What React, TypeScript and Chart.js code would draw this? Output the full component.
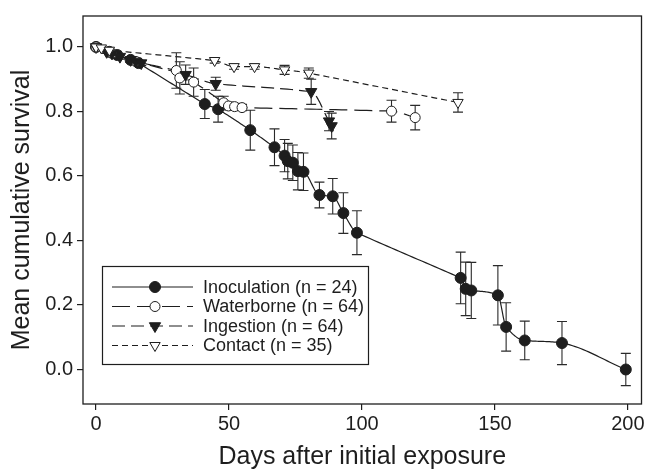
import React, { useEffect, useRef } from 'react';
import { Chart, registerables } from 'chart.js';

Chart.register(...registerables);

const FONT = "'Liberation Sans', Arial, Helvetica, sans-serif";
const INK = '#1e1e1e';

const xTicks = [0, 50, 100, 150, 200];
const yTicks = [0, 0.2, 0.4, 0.6, 0.8, 1.0];

const seriesLabels = ['Inoculation (n = 24)', 'Waterborne (n = 64)', 'Ingestion (n = 64)', 'Contact (n = 35)'];

const inocDays = [0, 5, 8, 13, 16, 40.9, 45.9, 58, 67.1, 70.9, 72.1, 74, 75.9, 78, 84, 89, 93, 98.1, 137.1, 139, 141.1, 151.1, 154.2, 161.2, 175.2, 199.2];
const inocSurv = [1, 0.985, 0.975, 0.96, 0.95, 0.823, 0.807, 0.742, 0.689, 0.663, 0.646, 0.641, 0.615, 0.613, 0.541, 0.537, 0.485, 0.424, 0.284, 0.25, 0.245, 0.23, 0.132, 0.09, 0.082, 0.0];
const inocErr = [0, 0.006, 0.006, 0.008, 0.008, 0.045, 0.04, 0.062, 0.057, 0.05, 0.055, 0.055, 0.058, 0.058, 0.04, 0.055, 0.063, 0.068, 0.08, 0.083, 0.087, 0.092, 0.075, 0.06, 0.067, 0.05];

const waterDays = [0, 6, 15, 30.2, 31.5, 36.7, 48, 49.8, 52.1, 54.9, 111.1, 120];
const waterSurv = [1, 0.98, 0.955, 0.927, 0.904, 0.891, 0.827, 0.817, 0.815, 0.812, 0.801, 0.781];
const waterErr = [0, 0.004, 0.008, 0.055, 0.05, 0.044, 0.02, 0.012, 0.01, 0.01, 0.034, 0.038];

const ingestDays = [0, 4, 6, 9, 13, 15, 17, 33.7, 45, 80.9, 87.6, 88.6];
const ingestSurv = [1, 0.985, 0.98, 0.97, 0.96, 0.955, 0.95, 0.914, 0.886, 0.861, 0.77, 0.755];
const ingestErr = [0, 0.005, 0.005, 0.008, 0.008, 0.008, 0.008, 0.03, 0.02, 0.039, 0.03, 0.04];

const contactDays = [0, 2, 5, 44.6, 51.9, 59.6, 70.9, 80, 136.1];
const contactSurv = [1, 0.997, 0.99, 0.958, 0.939, 0.939, 0.929, 0.919, 0.828];
const contactErr = [0, 0, 0, 0.008, 0.008, 0.008, 0.014, 0.016, 0.03];

const toPoints = (xs: number[], ys: number[]) => xs.map((x, i) => ({ x, y: ys[i] }));

// tangents weighted toward the longer neighbouring interval, then made monotone
function curveSlopes(xs: number[], ys: number[]) {
  const n = xs.length;
  const h: number[] = [];
  const d: number[] = [];
  for (let i = 0; i < n - 1; i++) {
    h.push(xs[i + 1] - xs[i]);
    d.push((ys[i + 1] - ys[i]) / h[i]);
  }
  const m = new Array(n).fill(0);
  m[0] = d[0];
  m[n - 1] = d[n - 2];
  for (let k = 1; k < n - 1; k++) {
    if (d[k - 1] * d[k] <= 0) {
      m[k] = 0;
    } else {
      const a = h[k - 1] * h[k - 1];
      const b = h[k] * h[k];
      m[k] = (a * d[k - 1] + b * d[k]) / (a + b);
    }
  }
  for (let k = 0; k < n - 1; k++) {
    if (d[k] === 0) {
      m[k] = 0;
      m[k + 1] = 0;
      continue;
    }
    const al = m[k] / d[k];
    const be = m[k + 1] / d[k];
    const s = al * al + be * be;
    if (s > 9) {
      const t = 3 / Math.sqrt(s);
      m[k] = t * al * d[k];
      m[k + 1] = t * be * d[k];
    }
  }
  return m;
}

function drawMarker(ctx: CanvasRenderingContext2D, style: string, fill: string, r: number, x: number, y: number) {
  ctx.save();
  ctx.setLineDash([]);
  ctx.fillStyle = fill;
  ctx.strokeStyle = INK;
  ctx.lineWidth = 1;
  ctx.beginPath();
  if (style === 'circle') {
    ctx.arc(x, y, r, 0, Math.PI * 2);
  } else {
    const h = (r * Math.sqrt(3)) / 2;
    ctx.moveTo(x - h, y - r / 2);
    ctx.lineTo(x + h, y - r / 2);
    ctx.lineTo(x, y + r);
    ctx.closePath();
  }
  ctx.fill();
  ctx.stroke();
  ctx.restore();
}

const curvePlugin = {
  id: 'smoothCurves',
  beforeDatasetsDraw(chart: any) {
    const { ctx } = chart;
    const xs = chart.scales.x;
    const ys = chart.scales.y;
    ctx.save();
    ctx.strokeStyle = INK;
    ctx.lineWidth = 1.2;
    chart.data.datasets.forEach((ds: any) => {
      const px: number[] = ds.data.map((p: any) => p.x);
      const py: number[] = ds.data.map((p: any) => p.y);
      const m = curveSlopes(px, py);
      ctx.setLineDash(ds.borderDash || []);
      ctx.beginPath();
      ctx.moveTo(xs.getPixelForValue(px[0]), ys.getPixelForValue(py[0]));
      for (let i = 0; i < px.length - 1; i++) {
        const h = px[i + 1] - px[i];
        const steps = 24;
        for (let s = 1; s <= steps; s++) {
          const t = s / steps;
          const t2 = t * t;
          const t3 = t2 * t;
          const v =
            (2 * t3 - 3 * t2 + 1) * py[i] +
            (t3 - 2 * t2 + t) * h * m[i] +
            (-2 * t3 + 3 * t2) * py[i + 1] +
            (t3 - t2) * h * m[i + 1];
          ctx.lineTo(xs.getPixelForValue(px[i] + t * h), ys.getPixelForValue(v));
        }
      }
      ctx.stroke();
    });
    ctx.restore();

    // error bars
    ctx.save();
    ctx.strokeStyle = '#2a2a2a';
    ctx.lineWidth = 1.1;
    ctx.setLineDash([]);
    chart.data.datasets.forEach((ds: any) => {
      const errs: number[] = ds.errors;
      if (!errs) return;
      ds.data.forEach((p: any, i: number) => {
        const e = errs[i];
        if (!e) return;
        const x = xs.getPixelForValue(p.x);
        const y1 = ys.getPixelForValue(p.y + e);
        const y2 = ys.getPixelForValue(p.y - e);
        ctx.beginPath();
        ctx.moveTo(x, y1);
        ctx.lineTo(x, y2);
        ctx.moveTo(x - 5, y1);
        ctx.lineTo(x + 5, y1);
        ctx.moveTo(x - 5, y2);
        ctx.lineTo(x + 5, y2);
        ctx.stroke();
      });
    });
    ctx.restore();
  },
};

const framePlugin = {
  id: 'frameLegend',
  afterDraw(chart: any) {
    const { ctx, chartArea } = chart;
    ctx.save();
    ctx.strokeStyle = INK;
    ctx.lineWidth = 1.3;
    ctx.setLineDash([]);
    ctx.strokeRect(chartArea.left, chartArea.top, chartArea.right - chartArea.left, chartArea.bottom - chartArea.top);

    const bx = 102.5, by = 266.5, bw = 266, bh = 98;
    ctx.fillStyle = '#fff';
    ctx.fillRect(bx, by, bw, bh);
    ctx.lineWidth = 1.2;
    ctx.strokeRect(bx, by, bw, bh);
    ctx.font = `18px ${FONT}`;
    ctx.textBaseline = 'middle';
    ctx.textAlign = 'left';
    chart.data.datasets.forEach((ds: any, i: number) => {
      const y = 287 + i * 19.5;
      ctx.strokeStyle = INK;
      ctx.lineWidth = 1.2;
      ctx.setLineDash(ds.borderDash || []);
      ctx.beginPath();
      ctx.moveTo(112, y);
      ctx.lineTo(193, y);
      ctx.stroke();
      ctx.setLineDash([]);
      drawMarker(ctx, ds.pointStyle, ds.pointBackgroundColor, ds.pointRadius, 155, y);
      ctx.fillStyle = INK;
      ctx.fillText(ds.label, 203, y + 1);
    });
    ctx.restore();
  },
};

export default function App() {
  const ref = useRef<HTMLCanvasElement>(null);

  useEffect(() => {
    document.body.style.margin = '0';
    if (!ref.current) return;
    const common = {
      borderColor: INK,
      borderWidth: 1.2,
      pointBorderColor: INK,
      pointBorderWidth: 1,
      showLine: false,
      fill: false,
    };
    const chart = new Chart(ref.current, {
      type: 'line',
      data: {
        datasets: [
          {
            ...common,
            label: seriesLabels[0],
            data: toPoints(inocDays, inocSurv),
            errors: inocErr,
            borderDash: [],
            pointStyle: 'circle',
            pointRadius: 5.5,
            pointBackgroundColor: INK,
            order: 3,
          },
          {
            ...common,
            label: seriesLabels[1],
            data: toPoints(waterDays, waterSurv),
            errors: waterErr,
            borderDash: [18, 7],
            pointStyle: 'circle',
            pointRadius: 5,
            pointBackgroundColor: '#fff',
            order: 2,
          },
          {
            ...common,
            label: seriesLabels[2],
            data: toPoints(ingestDays, ingestSurv),
            errors: ingestErr,
            borderDash: [13, 6],
            pointStyle: 'triangle',
            pointRotation: 180,
            pointRadius: 6.5,
            pointBackgroundColor: INK,
            order: 1,
          },
          {
            ...common,
            label: seriesLabels[3],
            data: toPoints(contactDays, contactSurv),
            errors: contactErr,
            borderDash: [6, 4],
            pointStyle: 'triangle',
            pointRotation: 180,
            pointRadius: 6,
            pointBackgroundColor: '#fff',
            order: 0,
          },
        ] as any,
      },
      options: {
        animation: false,
        responsive: false,
        maintainAspectRatio: false,
        layout: { padding: { left: 0, right: 6, top: 12, bottom: 0 } },
        plugins: { legend: { display: false }, tooltip: { enabled: false } },
        scales: {
          x: {
            type: 'linear',
            min: -4.9,
            max: 205.1,
            afterBuildTicks: (s: any) => { s.ticks = xTicks.map((v) => ({ value: v })); },
            afterFit: (s: any) => { s.height = 68; },
            ticks: { font: { family: FONT, size: 20 }, color: INK, padding: 2, maxRotation: 0, callback: (v: any) => String(v) },
            grid: { display: true, drawOnChartArea: false, drawTicks: true, tickLength: 6, color: INK, lineWidth: 1.2 },
            border: { display: false },
            title: { display: true, text: 'Days after initial exposure', font: { family: FONT, size: 25 }, color: INK, padding: { top: 0, bottom: 0 } },
          },
          y: {
            type: 'linear',
            min: -0.107,
            max: 1.096,
            afterBuildTicks: (s: any) => { s.ticks = yTicks.map((v) => ({ value: v })); },
            afterFit: (s: any) => { s.width = 83; },
            ticks: { font: { family: FONT, size: 20 }, color: INK, padding: 4, callback: (v: any) => Number(v).toFixed(1) },
            grid: { display: true, drawOnChartArea: false, drawTicks: true, tickLength: 6, color: INK, lineWidth: 1.2 },
            border: { display: false },
            title: { display: true, text: 'Mean cumulative survival', font: { family: FONT, size: 25 }, color: INK, padding: { top: 7, bottom: 0 } },
          },
        },
      },
      plugins: [curvePlugin, framePlugin],
    } as any);
    return () => chart.destroy();
  }, []);

  return (
    <div style={{ width: 649, height: 472 }}>
      <canvas ref={ref} width={649} height={472} style={{ display: 'block' }} />
    </div>
  );
}
